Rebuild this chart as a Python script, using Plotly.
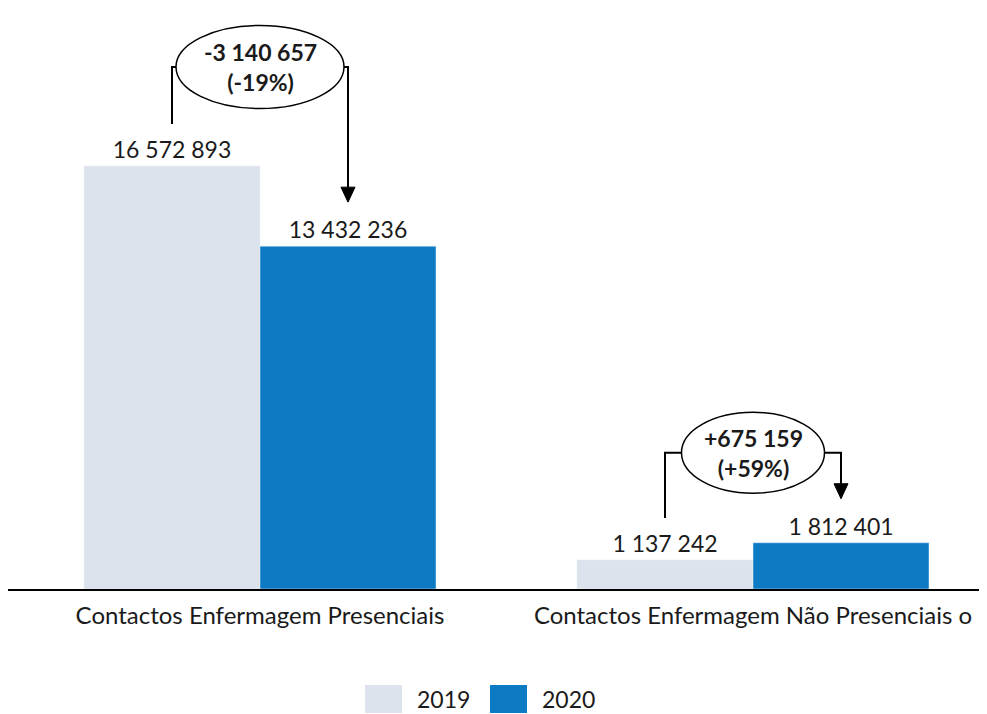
import plotly.graph_objects as go

categories = ["Contactos Enfermagem Presenciais", "Contactos Enfermagem Não Presenciais o"]
series_names = ["2019", "2020"]
values_2019 = [16572893, 1137242]
values_2020 = [13432236, 1812401]
labels_2019 = ["16 572 893", "1 137 242"]
labels_2020 = ["13 432 236", "1 812 401"]
diff_text = ["-3 140 657<br>(-19%)", "+675 159<br>(+59%)"]

c19 = "#DDE3ED"
c20 = "#0C7BC4"
txt = "#1a1a1a"
FONT = "Lato"

OFF = 8                       # page body margin in the browser
W, H = 987 - OFF, 714 - OFF
AXIS_Y = 589 - OFF            # axis line position (figure px)
ML, MR, MT = 0, 0, 12
MB = H - AXIS_Y
plot_h = H - MT - MB
plot_w = W - ML - MR
px_per_cat = 493.0
k = values_2019[0] / 423.0           # data units per pixel (vertical)
ymax = plot_h * k
x0 = -(260 - OFF - ML) / px_per_cat
x1 = x0 + plot_w / px_per_cat

xs = list(range(len(categories)))

fig = go.Figure()
fig.add_trace(go.Bar(x=xs, y=values_2019, name=series_names[0], marker_color=c19,
                     text=labels_2019, textposition="outside", cliponaxis=False,
                     textfont=dict(size=23, color=txt, family=FONT)))
fig.add_trace(go.Bar(x=xs, y=values_2020, name=series_names[1], marker_color=c20,
                     text=labels_2020, textposition="outside", cliponaxis=False,
                     textfont=dict(size=23, color=txt, family=FONT)))

bw = 0.357
shapes = []
annotations = []
ell_above = [99, 90]        # ellipse centre above taller bar (px)
ell_halfh = [41.5, 40.5]
ell_halfw = [84, 71.5]
for i in xs:
    xa = i - bw / 2        # 2019 bar centre
    xb = i + bw / 2        # 2020 bar centre
    top = max(values_2019[i], values_2020[i])
    yc = top + ell_above[i] * k
    hw = ell_halfw[i] / px_per_cat
    hh = ell_halfh[i] * k
    shapes.append(dict(type="circle", xref="x", yref="y", x0=i - hw, x1=i + hw,
                       y0=yc - hh, y1=yc + hh, line=dict(color="black", width=1.5),
                       fillcolor="white", layer="above"))
    ybot = values_2019[i] + 42 * k
    shapes.append(dict(type="path", xref="x", yref="y",
                       path=f"M {xa},{ybot} L {xa},{yc} L {i - hw},{yc}",
                       line=dict(color="black", width=2)))
    ytip = values_2020[i] + 44 * k
    yhead = ytip + 15 * k
    shapes.append(dict(type="path", xref="x", yref="y",
                       path=f"M {i + hw},{yc} L {xb},{yc} L {xb},{yhead}",
                       line=dict(color="black", width=2)))
    hx = 7 / px_per_cat
    shapes.append(dict(type="path", xref="x", yref="y",
                       path=f"M {xb - hx},{yhead} L {xb + hx},{yhead} L {xb},{ytip} Z",
                       fillcolor="black", line=dict(color="black", width=1)))
    annotations.append(dict(x=i, y=yc, xref="x", yref="y",
                            text="<b>" + diff_text[i].replace("<br>", "</b><br><b>") + "</b>",
                            showarrow=False, font=dict(size=23, color=txt, family=FONT),
                            align="center"))

# legend drawn below the axis (reference pixel coordinates converted to paper)
def px_x(p):
    return (p - OFF - ML) / plot_w

def px_y(p):
    return (AXIS_Y - (p - OFF)) / plot_h

leg = [(365, 402, 415, series_names[0], c19), (490, 527, 540, series_names[1], c20)]
for s0, s1, tx, name, col in leg:
    shapes.append(dict(type="rect", xref="paper", yref="paper", x0=px_x(s0), x1=px_x(s1),
                       y0=px_y(713), y1=px_y(685), fillcolor=col, line=dict(width=0)))
    annotations.append(dict(x=px_x(tx), y=px_y(699), xref="paper", yref="paper", text=name,
                            xanchor="left", yanchor="middle", showarrow=False,
                            font=dict(size=23, color=txt, family=FONT)))

fig.update_layout(
    width=W, height=H, margin=dict(l=ML, r=MR, t=MT, b=MB),
    barmode="group", bargap=0.286, bargroupgap=0,
    plot_bgcolor="white", paper_bgcolor="white",
    showlegend=False, shapes=shapes, annotations=annotations,
    font=dict(family=FONT, color=txt),
    xaxis=dict(range=[x0, x1], tickvals=xs, ticktext=categories, showline=True,
               linecolor="black", linewidth=1.5, showgrid=False, zeroline=False,
               ticks="outside", ticklen=4, tickcolor="rgba(0,0,0,0)",
               tickfont=dict(size=24, color=txt, family=FONT)),
    yaxis=dict(range=[0, ymax], visible=False, showgrid=False, zeroline=False),
)

fig.write_html("out.html")
